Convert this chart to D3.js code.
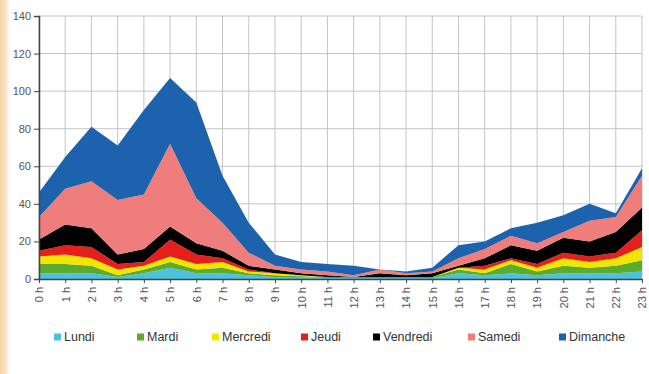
<!DOCTYPE html>
<html lang="fr">
<head>
<meta charset="UTF-8">
<title>Stacked area by hour</title>
<script src="https://d3js.org/d3.v7.min.js"></script>
<style>
    body {
        margin: 0;
        background: linear-gradient(to right, #f9d2a8 0px, #fbe3c8 6px, #ffffff 10px);
        font-family: "Liberation Sans", Arial, sans-serif;
    }
    svg { display: block; }
    .grid line { stroke: #c4c4c4; stroke-width: 1; }
    .axis text { fill: #555; font-size: 11px; }
    .axis path, .axis line { stroke: #444; }
    .legend text { fill: #333; font-size: 12.5px; }
</style>
</head>
<body>
<svg width="649" height="374"></svg>
<script>
    // hours on the x axis
    const hours = d3.range(24).map(h => h + " h");
    const days = ["Lundi", "Mardi", "Mercredi", "Jeudi", "Vendredi", "Samedi", "Dimanche"];
    const colors = ["#4cc2dc", "#5aab2e", "#f3e500", "#e41f1c", "#000000", "#ef7d7b", "#1d62ad"];
    const yTicks = [0, 20, 40, 60, 80, 100, 120, 140];

    // values, one array per day
    const lundi    = [3, 3, 3, 1, 3, 6, 3, 3, 2, 1, 1, 0.5, 0.5, 0.5, 0.5, 0.5, 3, 2, 3, 2, 3, 3, 3, 4];
    const mardi    = [5, 5, 4, 1, 2, 3, 2, 3, 1, 1, 0.5, 0.5, 0.5, 0.5, 0.5, 0.5, 2, 1, 5, 2, 4, 3, 4, 6];
    const mercredi = [4, 5, 4, 3, 2, 3, 3, 3, 1, 1, 0.5, 0, 0, 0, 0, 0, 1, 2, 2, 2, 4, 3, 4, 7];
    const jeudi    = [3, 5, 6, 3, 2, 9, 5, 2, 1, 0, 0, 0, 0, 0, 0, 0, 0, 2, 1, 2, 3, 3, 3, 9];
    const vendredi = [6, 11, 10, 5, 7, 7, 6, 4, 2, 2, 1, 1, 0, 2, 1, 2, 1, 4, 7, 7, 8, 8, 11, 12];
    const samedi   = [12, 19, 25, 29, 29, 44, 24, 15, 7, 2, 2, 2, 1, 2, 1, 1, 4, 5, 5, 4, 3, 11, 8, 17];
    const dimanche = [13, 17, 29, 29, 45, 35, 51, 25, 16, 6, 4, 4, 5, 0, 1, 2, 7, 4, 4, 11, 9, 9, 2, 4];

    const series = [lundi, mardi, mercredi, jeudi, vendredi, samedi, dimanche];

    // table for d3.stack
    const table = hours.map((h, i) => {
        const row = {hour: h};
        days.forEach((d, k) => row[d] = series[k][i]);
        return row;
    });

    const margin = {top: 16, right: 7, bottom: 95, left: 39};
    const width = 649 - margin.left - margin.right;
    const height = 374 - margin.top - margin.bottom;

    const svg = d3.select("svg")
        .append("g")
        .attr("transform", `translate(${margin.left}, ${margin.top})`);

    const x = d3.scalePoint().domain(hours).range([0, width]);
    const y = d3.scaleLinear().domain([0, 140]).range([height, 0]);

    // grid
    const grid = svg.append("g").attr("class", "grid");
    grid.selectAll(".h").data(yTicks).join("line")
        .attr("x1", 0).attr("x2", width)
        .attr("y1", d => y(d)).attr("y2", d => y(d));
    grid.selectAll(".v").data(hours).join("line")
        .attr("x1", d => x(d)).attr("x2", d => x(d))
        .attr("y1", 0).attr("y2", height);

    // stacked areas
    const stacked = d3.stack().keys(days)(table);
    const area = d3.area()
        .x(d => x(d.data.hour))
        .y0(d => y(d[0]))
        .y1(d => y(d[1]));

    svg.selectAll(".layer").data(stacked).join("path")
        .attr("class", "layer")
        .attr("fill", (d, i) => colors[i])
        .attr("d", area);

    // axes
    svg.append("g").attr("class", "axis")
        .call(d3.axisLeft(y).tickValues(yTicks).tickSize(5).tickPadding(3))
        .call(g => g.select(".domain").attr("stroke-width", 1.5));

    svg.append("g").attr("class", "axis")
        .attr("transform", `translate(0, ${height})`)
        .call(d3.axisBottom(x).tickSize(4).tickPadding(4).tickSizeOuter(0))
        .call(g => g.select(".domain").attr("stroke-width", 1.5))
        .selectAll("text")
        .attr("transform", "rotate(-90)")
        .attr("text-anchor", "end")
        .attr("x", -8)
        .attr("y", 0)
        .attr("dy", "0.35em");

    // legend
    const legendX = [15, 98, 173, 262, 334, 429, 520];
    const legend = svg.append("g").attr("class", "legend")
        .attr("transform", `translate(0, ${height + 58})`);
    const item = legend.selectAll("g").data(days).join("g")
        .attr("transform", (d, i) => `translate(${legendX[i]}, 0)`);
    item.append("rect")
        .attr("x", 0).attr("y", -3.5)
        .attr("width", 7).attr("height", 7)
        .attr("fill", (d, i) => colors[i]);
    item.append("text")
        .attr("x", 10).attr("dy", "0.35em")
        .text(d => d);
</script>
</body>
</html>
